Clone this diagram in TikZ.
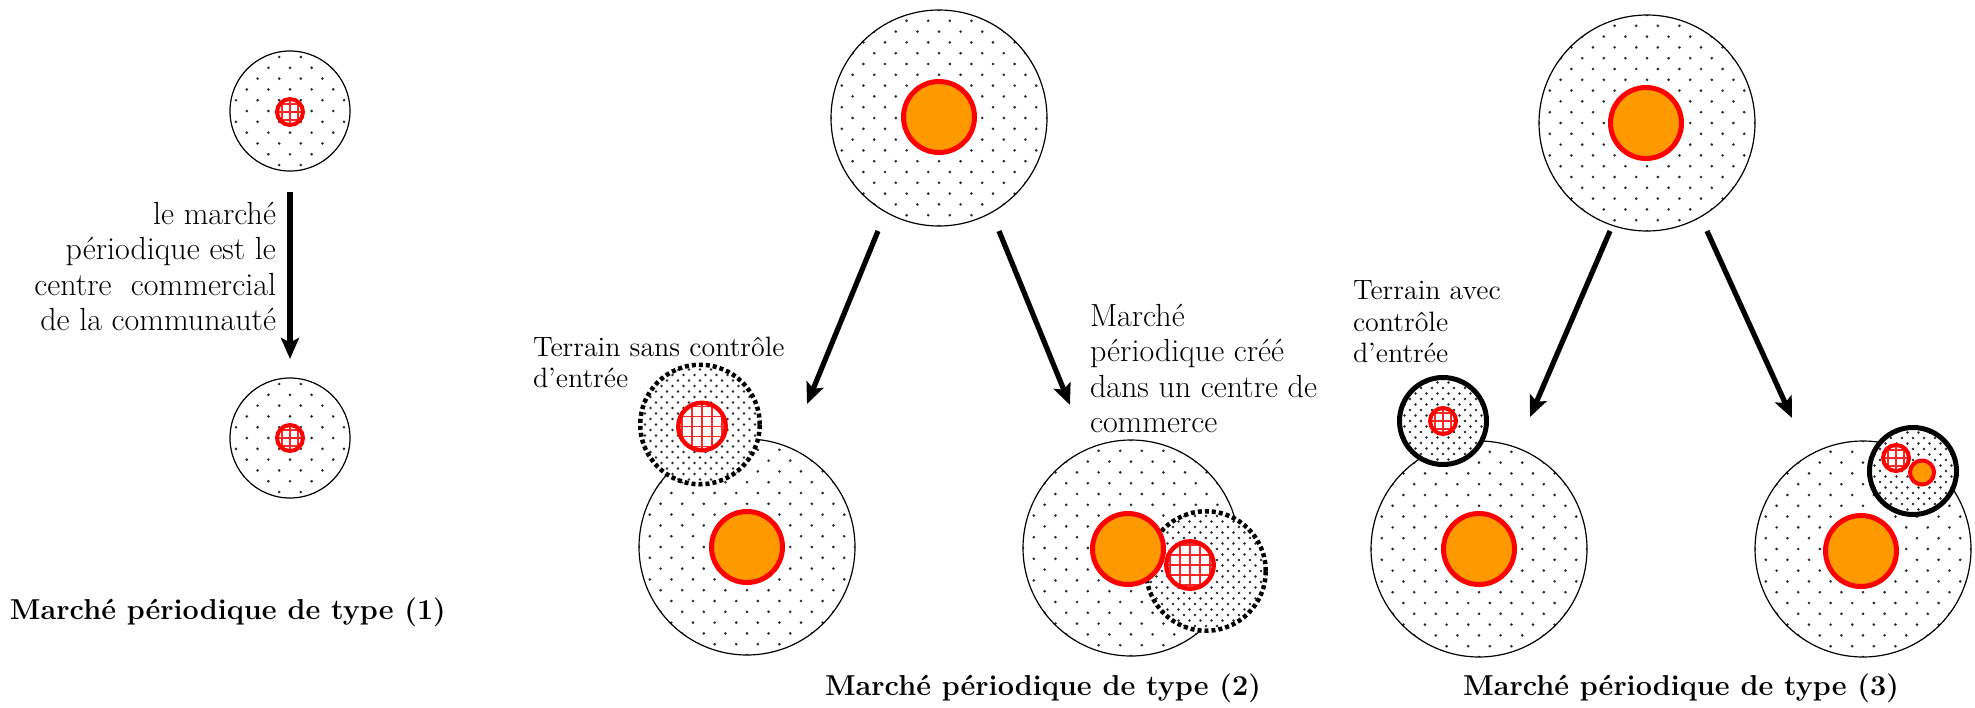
\documentclass[tikz,border=0pt]{standalone}
\usepackage{fontspec}
\usetikzlibrary{arrows.meta}
\definecolor{orng}{HTML}{FF9900}
\definecolor{dotc}{HTML}{2A2A2A}
\tikzset{
  zone/.style={circle, draw=black, line width=0.6pt, fill=white, inner sep=0pt, outer sep=0pt, minimum size=#1,
    path picture={\begin{scope}[shift={(path picture bounding box.center)}]
      \foreach \i in {-5,...,5}{\foreach \j in {-5,...,5}{
        \fill[dotc] (\j*21.6,\i*21.6) circle (1.45);
        \fill[dotc] (\j*21.6+10.8,\i*21.6+10.8) circle (1.45);}}
      \end{scope}}},
  densezone/.style={circle, fill=white, inner sep=0pt, outer sep=0pt, minimum size=#1,
    path picture={\begin{scope}[shift={(path picture bounding box.center)}]
      \foreach \i in {-6,...,6}{\foreach \j in {-6,...,6}{
        \fill[dotc] (\j*11,\i*11) circle (1.3);
        \fill[dotc] (\j*11+5.5,\i*11+5.5) circle (1.3);}}
      \end{scope}}},
  dashedring/.style={densezone=#1, draw=black, line width=2.25pt, dash pattern=on 2pt off 1.5pt},
  solidring/.style={densezone=#1, draw=black, line width=2.5pt},
  market/.style={circle, draw=red, fill=orng, line width=2.5pt, inner sep=0pt, outer sep=0pt, minimum size=#1},
  hatchmk/.style 2 args={circle, draw=red, fill=white, line width=2.2pt, inner sep=0pt, outer sep=0pt, minimum size=#1,
    path picture={\begin{scope}[shift={(path picture bounding box.center)}]
      \foreach \k in {-5,...,5}{
        \draw[red!85, line width=0.8pt] (\k*#2,-45) -- (\k*#2,45);
        \draw[red!85, line width=0.8pt] (-45,\k*#2) -- (45,\k*#2);}
      \end{scope}}},
  arr/.style={line width=2.6pt, -{Stealth[length=10.5pt,width=9pt,inset=2.2pt]}},
  lbl/.style={font=\fontsize{16}{17.6}\selectfont, inner sep=0pt, outer sep=0pt},
  lblb/.style={font=\fontsize{14}{15.7}\selectfont, inner sep=0pt, outer sep=0pt},
  captxt/.style={font=\fontsize{14.4}{17}\selectfont\bfseries, inner sep=0pt, outer sep=0pt},
}
\begin{document}
\begin{tikzpicture}[x=0.5pt, y=-0.5pt]
\fill[white] (0,0) rectangle (1975,707);
\useasboundingbox (0,0) rectangle (1975,707);

% ---------- Type 1 ----------
\node[zone=60pt] (t1a) at (290,111) {};
\node[hatchmk={13pt}{8}, line width=2pt] (t1am) at (290,112) {};
\node[zone=60pt] (t1b) at (290,438) {};
\node[hatchmk={13pt}{8}, line width=2pt] (t1bm) at (290,438) {};
\draw[arr, shorten <=10.5pt, shorten >=9.5pt] (t1a) -- (t1b);
\node[lbl, align=right, anchor=north east] (t1txt) at (276,202.5)
  {le marché\\périodique est le\\centre\ \ commercial\\de la communauté};
\node[captxt, anchor=base west] (c1) at (10,619) {Marché périodique de type (1)};

% ---------- Type 2 ----------
\node[zone=108pt] (t2top) at (939,118) {};
\node[market=35.5pt] (t2topm) at (939,117) {};
\node[zone=108pt] (t2l) at (747,547) {};
\node[dashedring=59.75pt] (t2lz) at (700,424.5) {};
\node[market=35.5pt] (t2lm) at (747,547) {};
\node[hatchmk={23.75pt}{10}] (t2lh) at (702,426.5) {};
\node[zone=108pt] (t2r) at (1131,548) {};
\node[dashedring=59.75pt] (t2rz) at (1206,571) {};
\node[market=35.5pt] (t2rm) at (1128,549) {};
\node[hatchmk={23.75pt}{10}] (t2rh) at (1190,565) {};
\coordinate (a2ls) at (878,231);
\coordinate (a2le) at (807,404);
\coordinate (a2rs) at (999,231);
\coordinate (a2re) at (1070,405);
\draw[arr] (a2ls) -- (a2le);
\draw[arr] (a2rs) -- (a2re);
\node[lblb, align=left, anchor=north west] (t2ltxt) at (533,337) {Terrain sans contrôle\\d’entrée};
\node[lbl, align=left, anchor=north west] (t2rtxt) at (1090,304.5) {Marché\\périodique créé\\dans un centre de\\commerce};
\node[captxt, anchor=base west] (c2) at (825,695) {Marché périodique de type (2)};

% ---------- Type 3 ----------
\node[zone=108pt] (t3top) at (1647,123) {};
\node[market=35.5pt] (t3topm) at (1646,123) {};
\node[zone=108pt] (t3l) at (1479,549) {};
\node[solidring=43.5pt] (t3lz) at (1443,421) {};
\node[market=35.5pt] (t3lm) at (1479,549) {};
\node[hatchmk={13pt}{8}, line width=2pt] (t3lh) at (1443,421) {};
\node[zone=108pt] (t3r) at (1863,549) {};
\node[solidring=43.5pt] (t3rz) at (1913,471) {};
\node[market=35.5pt] (t3rm) at (1861,551) {};
\node[hatchmk={13pt}{8}, line width=2pt] (t3rh) at (1896,458) {};
\node[market=12pt, line width=2pt] (t3rs) at (1922,472.5) {};
\coordinate (a3ls) at (1610,231);
\coordinate (a3le) at (1530,417);
\coordinate (a3rs) at (1707,231);
\coordinate (a3re) at (1792,418);
\draw[arr] (a3ls) -- (a3le);
\draw[arr] (a3rs) -- (a3re);
\node[lblb, align=left, anchor=north west] (t3txt) at (1353,281) {Terrain avec\\contrôle\\d’entrée};
\node[captxt, anchor=base west] (c3) at (1463,695) {Marché périodique de type (3)};
\end{tikzpicture}
\end{document}
